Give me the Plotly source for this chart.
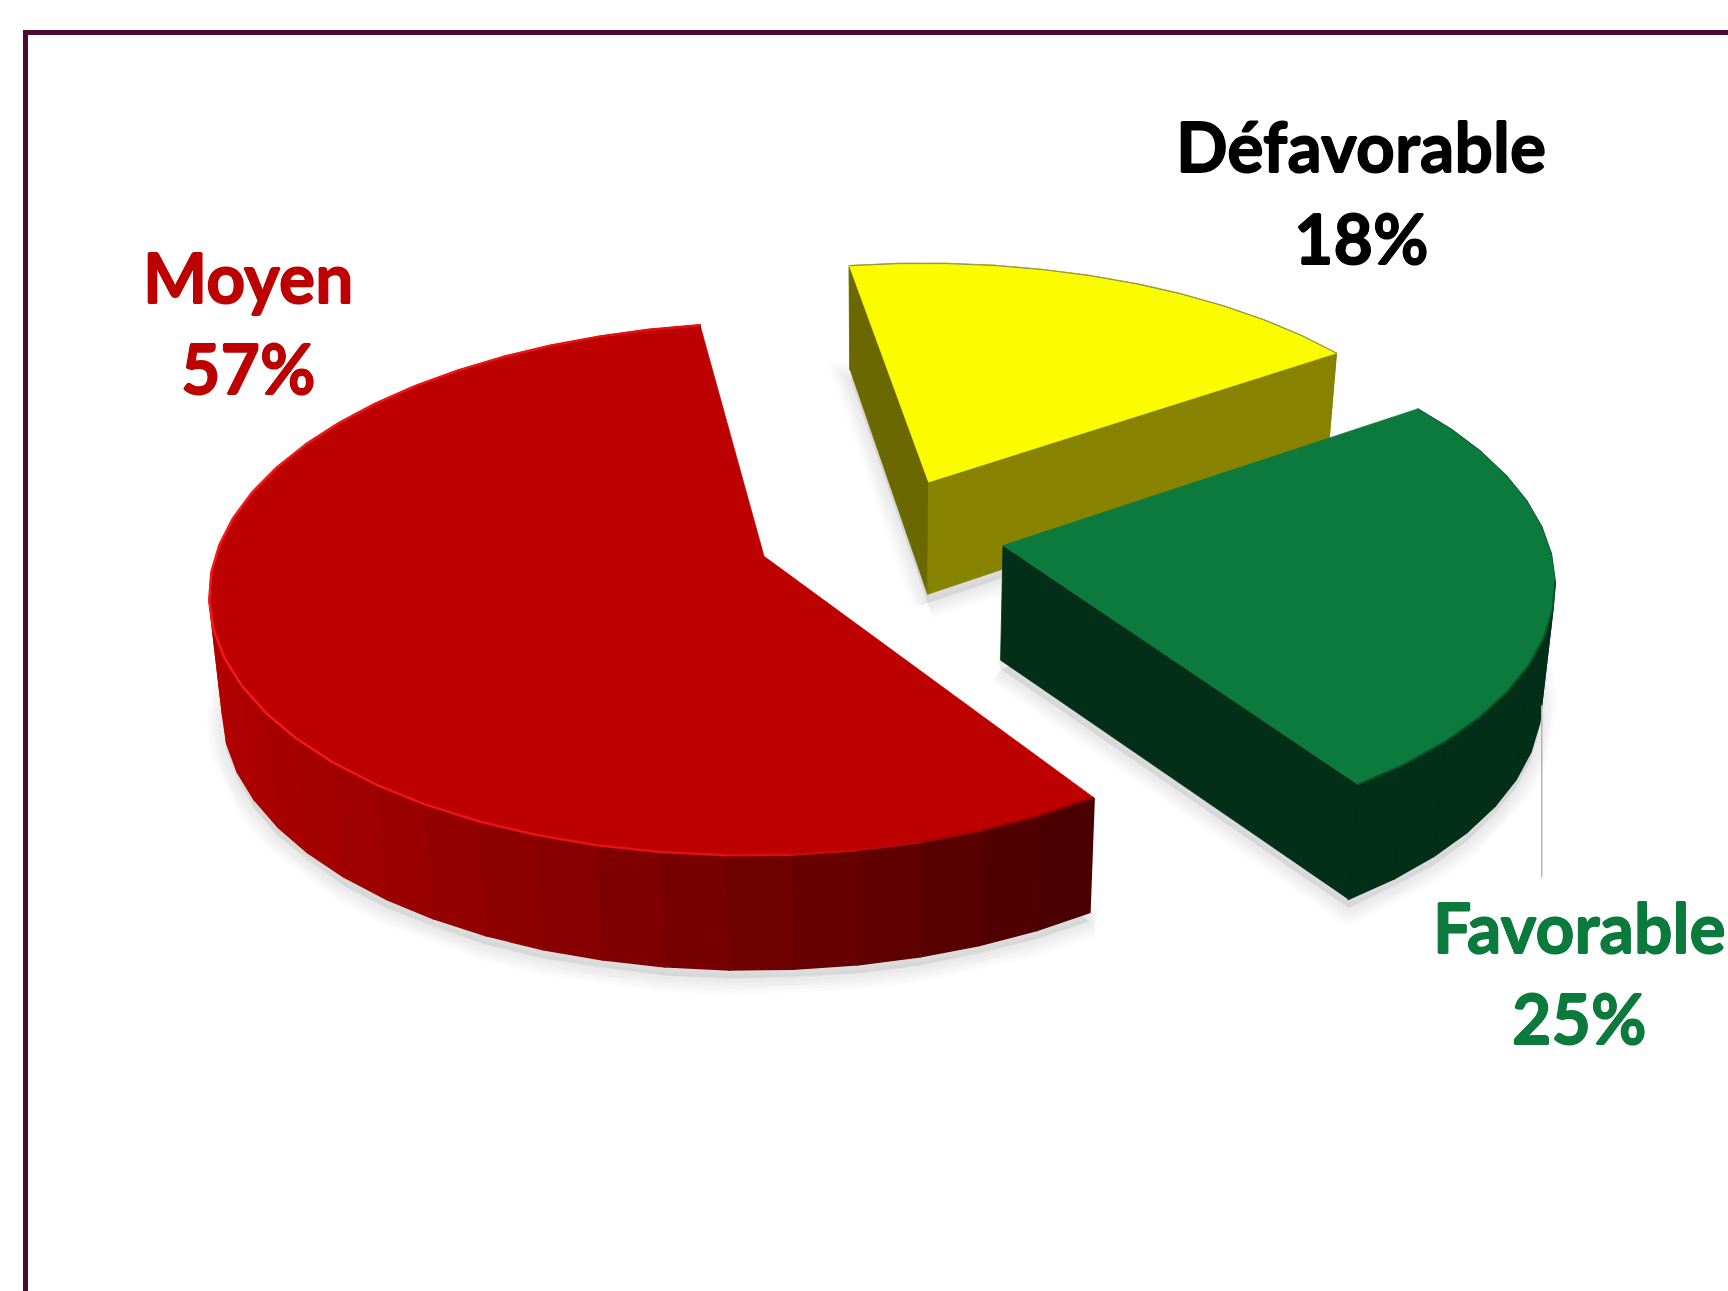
import math
import numpy as np
import plotly.graph_objects as go

# ---- data ----
categories = ["Défavorable", "Favorable", "Moyen"]
values = [18, 25, 57]

# ---- style ----
top_colors = ["#fcfc00", "#0b7a3c", "#bd0000"]
text_colors = ["#000000", "#0b7a3c", "#bd0000"]
wall_a = ["#878200", "#032f18", "#b00000"]   # outer wall, left end of gradient
wall_b = ["#878200", "#032f18", "#480000"]   # outer wall, right end of gradient
cut_colors = ["#878200", "#032f18", None]    # wall under the closing radial edge
open_colors = ["#6c6800", None, None]        # wall under the opening radial edge
label_xy = [(1361, 145), (1579, 926), (248, 276)]
pct_xy = [(1361, 237), (1579, 1017), (248, 367)]
FONT = "Lato"
FONT_SIZE = 68

W, H = 1728, 1291
S = W / 1568
CX, CY = 799 * S, 485 * S
RX, RY = 507 * S, 240 * S
PERSP = 0.125
EXPLODE = 0.222
RIM_R = 0.972
START = 351.0
STEP = 6.0
BOTTOM_SCALE = 0.98


def project(u, v):
    w = 1 + PERSP * v
    return CX + RX * u / w, CY - RY * v / w


def top_point(theta, bis, r=RIM_R):
    t, b = math.radians(theta), math.radians(bis)
    return project(EXPLODE * math.sin(b) + r * math.sin(t), EXPLODE * math.cos(b) + r * math.cos(t))


def bottom_of(x, y):
    v_est = (CY - y) / RY
    depth = (104 - 10 * max(v_est, 0)) * S
    return CX + (x - CX) * BOTTOM_SCALE, y + depth


def hexrgb(c):
    return tuple(int(c[i:i + 2], 16) for i in (1, 3, 5))


def mix(a, b, t):
    t = min(1, max(0, t))
    ra, rb = hexrgb(a), hexrgb(b)
    return "#%02x%02x%02x" % tuple(round(p + (q - p) * t) for p, q in zip(ra, rb))


def poly(fig, pts, fill, name, lw=1.6):
    xs = [p[0] for p in pts] + [pts[0][0]]
    ys = [p[1] for p in pts] + [pts[0][1]]
    fig.add_trace(go.Scatter(x=xs, y=ys, mode="lines", fill="toself", fillcolor=fill,
                             line=dict(color=fill, width=lw),
                             hoverinfo="skip", name=name, showlegend=False))


fig = go.Figure()
total = sum(values)
angle = START
for i, (cat, val) in enumerate(zip(categories, values)):
    sweep = 360 * val / total
    a0, a1 = angle, angle + sweep
    angle = a1
    bis = (a0 + a1) / 2
    n = max(2, int(round(sweep / STEP)))
    thetas = [a0 + sweep * j / n for j in range(n + 1)]
    apex = top_point(0, bis, 0.0)
    rim = [top_point(t, bis) for t in thetas]
    rim_b = [bottom_of(*p) for p in rim]
    apex_b = bottom_of(*apex)

    # soft shadow below the slice
    shadow = [(x, y + 9) for x, y in ([apex_b] + rim_b)]
    for lw, alpha in [(32, 0.014), (26, 0.014), (20, 0.014), (14, 0.014), (8, 0.014)]:
        sx = [p[0] for p in shadow] + [shadow[0][0]]
        sy = [p[1] for p in shadow] + [shadow[0][1]]
        fig.add_trace(go.Scatter(x=sx, y=sy, mode="lines", fill="toself",
                                 fillcolor="rgba(0,0,0,%g)" % alpha,
                                 line=dict(color="rgba(0,0,0,%g)" % alpha, width=lw),
                                 hoverinfo="skip", showlegend=False))

    if cat == "Favorable":
        fig.add_shape(type="line", x0=1399 * S, x1=1399 * S, y0=640 * S, y1=796 * S,
                      line=dict(color="#b4b4b4", width=1.5), layer="above")

    # outer wall, one strip per facet
    for j in range(n):
        x_mid = (rim[j][0] + rim[j + 1][0]) / 2
        t = (x_mid - 207) / (1090 - 207)
        poly(fig, [rim[j], rim[j + 1], rim_b[j + 1], rim_b[j]], mix(wall_a[i], wall_b[i], t), cat)
    # radial walls
    if open_colors[i]:
        poly(fig, [apex, rim[0], rim_b[0], apex_b], open_colors[i], cat, lw=0.8)
    if cut_colors[i]:
        poly(fig, [apex, rim[-1], rim_b[-1], apex_b], cut_colors[i], cat, lw=0.8)

    # top face
    poly(fig, [apex] + rim, top_colors[i], cat, lw=0.8)

    # rim details
    if cat == "Moyen":
        for j in range(n):
            x_mid = (rim[j][0] + rim[j + 1][0]) / 2
            t = (x_mid - 207) / (1090 - 207)
            col = mix("#f41a1a", "#e01010", t / 0.6) if t < 0.6 else mix("#e01010", "#700000", (t - 0.6) / 0.4)
            fig.add_trace(go.Scatter(x=[rim[j][0], rim[j + 1][0]], y=[rim[j][1], rim[j + 1][1]],
                                     mode="lines", line=dict(color=col, width=2.5),
                                     hoverinfo="skip", showlegend=False))
    elif cat == "Favorable":
        fig.add_trace(go.Scatter(x=[p[0] for p in rim[n // 2:]], y=[p[1] for p in rim[n // 2:]],
                                 mode="lines", line=dict(color="#085228", width=2),
                                 hoverinfo="skip", showlegend=False))
    else:
        fig.add_trace(go.Scatter(x=[p[0] for p in rim], y=[p[1] for p in rim],
                                 mode="lines", line=dict(color="#8c8c60", width=1),
                                 hoverinfo="skip", showlegend=False))

# labels
for cat, val, col, (lx, ly), (px, py) in zip(categories, values, text_colors, label_xy, pct_xy):
    thick = "0.7px 0 0 {0}, -0.7px 0 0 {0}, 0 0.7px 0 {0}, 0 -0.7px 0 {0}".format(col)
    f = dict(family=FONT, size=FONT_SIZE, color=col, shadow=thick)
    fig.add_annotation(x=lx, y=ly, text="<b>%s</b>" % cat, showarrow=False, xanchor="center",
                       yanchor="middle", font=f)
    fig.add_annotation(x=px, y=py, text="<b>%d%%</b>" % val, showarrow=False, xanchor="center",
                       yanchor="middle", font=f)

# frame
fig.add_shape(type="path", path="M 25.5 1291 L 25.5 32.5 L 1728 32.5",
              line=dict(color="#4a0c33", width=5))

fig.update_layout(
    width=W, height=H, margin=dict(l=0, r=0, t=0, b=0),
    paper_bgcolor="white", plot_bgcolor="white", showlegend=False,
    xaxis=dict(range=[0, W], visible=False, fixedrange=True),
    yaxis=dict(range=[H, 0], visible=False, fixedrange=True),
)
fig.write_html("out.html", post_script="document.body.style.margin='0';document.body.style.overflow='hidden';",
               config=dict(displayModeBar=False))
